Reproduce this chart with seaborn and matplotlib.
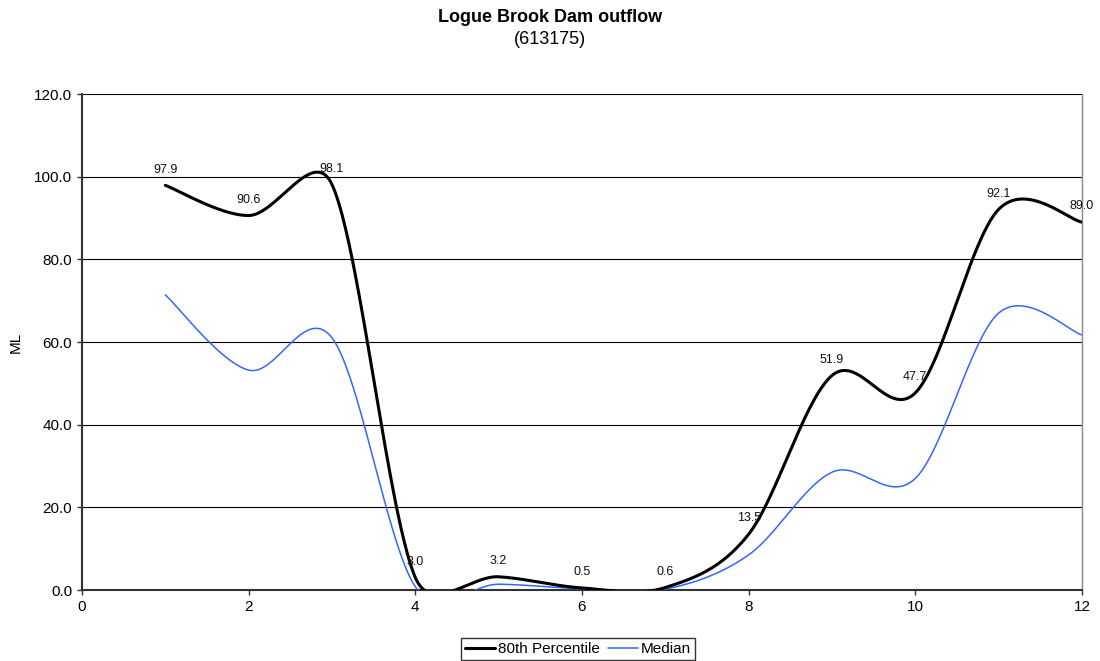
import numpy as np
import pandas as pd
import matplotlib
matplotlib.use("Agg")
import matplotlib.pyplot as plt
import seaborn as sns
from matplotlib.lines import Line2D

months = [1, 2, 3, 4, 5, 6, 7, 8, 9, 10, 11, 12]
p80 = [97.9, 90.6, 98.1, 3.0, 3.2, 0.5, 0.6, 13.5, 51.9, 47.7, 92.1, 89.0]
median = [71.4, 53.2, 61.0, 0.8, 1.4, 0.3, 0.2, 8.5, 28.5, 27.0, 67.0, 61.7]
p80_labels = ["97.9", "90.6", "98.1", "3.0", "3.2", "0.5", "0.6", "13.5", "51.9", "47.7", "92.1", "89.0"]
xticks = [0, 2, 4, 6, 8, 10, 12]
yticks = [0, 20, 40, 60, 80, 100, 120]

AX_W_PX, AX_H_PX = 1000.0, 496.0
XMAX, YMAX = 12.0, 120.0


def smooth(xs, ys, n=80):
    # Excel-style smoothed line: cubic Bezier segments through the data points,
    # tangents from neighbours (1/6 tension), limited to half the segment length (screen space)
    kx, ky = AX_W_PX / XMAX, AX_H_PX / YMAX
    P = np.column_stack([np.asarray(xs, float) * kx, np.asarray(ys, float) * ky])
    out = []
    m = len(P)

    def ctrl(a_prev, a, a_next, seg_len):
        d = a_next - a_prev
        L = np.hypot(*d)
        if L == 0:
            return np.zeros(2)
        f = 1.0 / 6.0
        if L * f > 0.5 * seg_len:
            f = 0.5 * seg_len / L
        return d * f

    for i in range(m - 1):
        p0 = P[i - 1] if i > 0 else P[i]
        p1 = P[i]
        p2 = P[i + 1]
        p3 = P[i + 2] if i + 2 < m else P[i + 1]
        seg = np.hypot(*(p2 - p1))
        c1 = p1 + ctrl(p0, p1, p2, seg)
        c2 = p2 - ctrl(p1, p2, p3, seg)
        t = np.linspace(0, 1, n, endpoint=(i == m - 2))[:, None]
        b = ((1 - t) ** 3) * p1 + 3 * ((1 - t) ** 2) * t * c1 + 3 * (1 - t) * t ** 2 * c2 + t ** 3 * p2
        out.append(b)
    arr = np.vstack(out)
    return arr[:, 0] / kx, arr[:, 1] / ky


sns.set_theme(style="white")
plt.rcParams['font.family'] = ['Liberation Sans', 'DejaVu Sans']
plt.rcParams['text.color'] = 'black'
plt.rcParams['axes.labelcolor'] = 'black'
plt.rcParams['xtick.color'] = 'black'
plt.rcParams['ytick.color'] = 'black'

fig = plt.figure(figsize=(11, 6.61), dpi=100)
ax = fig.add_axes([82 / 1100, 1 - 590 / 661, 1000 / 1100, 496 / 661])

sx, sy = smooth(months, p80)
mx, my = smooth(months, median)
df = pd.concat([
    pd.DataFrame({"x": sx, "y": sy, "series": "80th Percentile"}),
    pd.DataFrame({"x": mx, "y": my, "series": "Median"}),
])

sns.lineplot(data=df[df.series == "Median"], x="x", y="y", sort=False, estimator=None,
             color="#3366ff", linewidth=1.1, ax=ax, legend=False, zorder=3)
sns.lineplot(data=df[df.series == "80th Percentile"], x="x", y="y", sort=False, estimator=None,
             color="black", linewidth=2.2, ax=ax, legend=False, zorder=4)

for xv, yv, lab in zip(months, p80, p80_labels):
    ax.annotate(lab, (xv, yv), xytext=(0, 7), textcoords="offset points",
                ha="center", va="bottom", fontsize=9, color="#111111", zorder=5,
                annotation_clip=False)

ax.set_xlim(0, XMAX)
ax.set_ylim(0, YMAX)
ax.set_xticks(xticks)
ax.set_xticklabels([str(v) for v in xticks], fontsize=11)
ax.set_yticks(yticks)
ax.set_yticklabels([f"{v:.1f}" for v in yticks], fontsize=11)
ax.yaxis.grid(True, color="black", linewidth=0.8)
ax.xaxis.grid(False)
ax.set_axisbelow(True)
ax.tick_params(axis="both", direction="out", length=3.6, width=1, color="#333333",
               labelcolor="black", bottom=True, left=True, pad=3.5)
for side in ["left", "bottom"]:
    ax.spines[side].set_color("#333333")
    ax.spines[side].set_linewidth(1.5)
ax.spines["right"].set_color("#888888")
ax.spines["right"].set_linewidth(1.0)
ax.spines["top"].set_visible(False)
ax.set_xlabel("")
ax.set_ylabel("ML", fontsize=11, labelpad=8, color="black")

fig.text(0.5, 1 - 18 / 661, "Logue Brook Dam outflow", ha="center", va="center",
         fontsize=13, fontweight="bold", color="black")
fig.text(0.5, 1 - 40 / 661, "(613175)", ha="center", va="center", fontsize=13, color="black")

handles = [Line2D([], [], color="black", linewidth=2.2),
           Line2D([], [], color="#3366ff", linewidth=1.1)]
leg = fig.legend(handles, ["80th Percentile", "Median"], loc="center",
                 bbox_to_anchor=(578 / 1100, 1 - 649 / 661), ncol=2, fontsize=11,
                 frameon=True, fancybox=False, handlelength=1.95, handletextpad=0.2,
                 columnspacing=0.55, borderpad=0.25, borderaxespad=0)
leg.get_frame().set_edgecolor("black")
leg.get_frame().set_linewidth(1.0)

fig.savefig("out.png", dpi=100)
